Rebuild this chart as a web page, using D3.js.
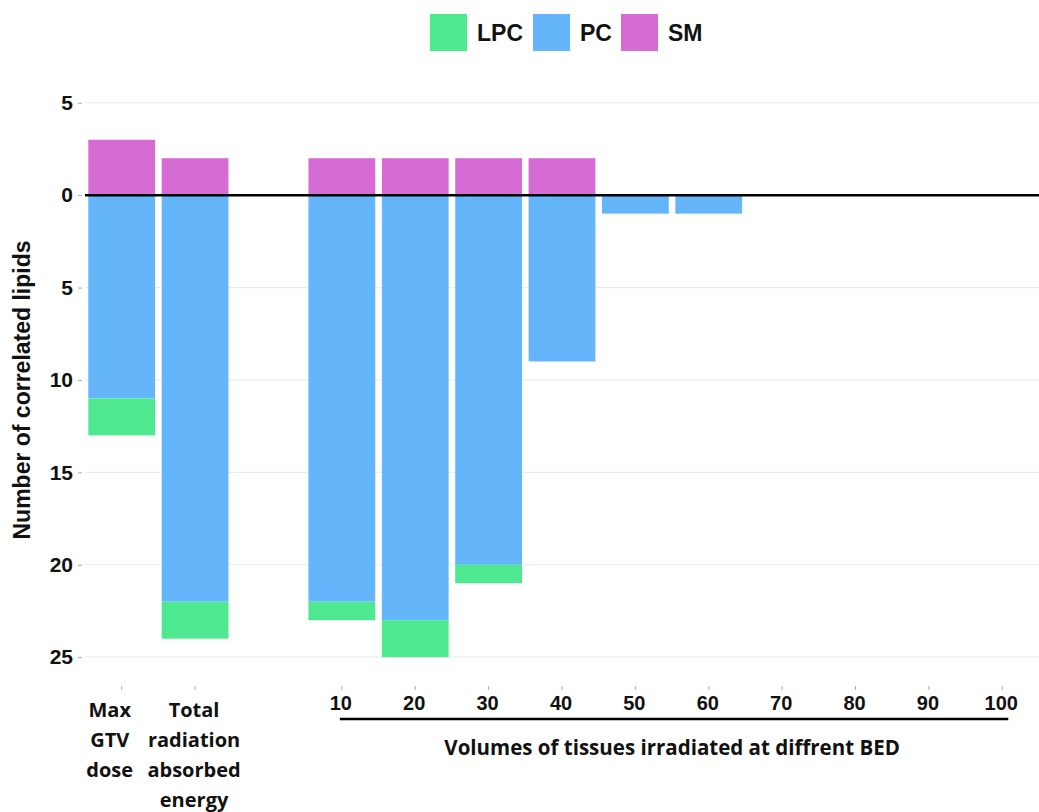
<!DOCTYPE html>
<html>
<head>
<meta charset="utf-8">
<script src="https://cdn.jsdelivr.net/npm/d3@7"></script>
<style>
  html, body { margin: 0; padding: 0; background: #fff; }
  svg { display: block; }
</style>
</head>
<body>
<svg id="chart" width="1039" height="812"></svg>
<script>
// ---- data ----
const categories = ["Max GTV dose", "Total radiation absorbed energy", "gap", "10", "20", "30", "40", "50", "60", "70", "80", "90", "100"];
const categoryLines = [["Max", "GTV", "dose"], ["Total", "radiation", "absorbed", "energy"], [], ["10"], ["20"], ["30"], ["40"], ["50"], ["60"], ["70"], ["80"], ["90"], ["100"]];
const seriesNames = ["LPC", "PC", "SM"];
const lpcValues = [2, 2, 0, 1, 2, 1, 0, 0, 0, 0, 0, 0, 0];   // below zero
const pcValues  = [11, 22, 0, 22, 23, 20, 9, 1, 1, 0, 0, 0, 0]; // below zero
const smValues  = [3, 2, 0, 2, 2, 2, 2, 0, 0, 0, 0, 0, 0];    // above zero
const yTickValues = [-25, -20, -15, -10, -5, 0, 5];
const xAxisTitle = "Volumes of tissues irradiated at diffrent BED";
const yAxisTitle = "Number of correlated lipids";
const colors = { LPC: "#4de88f", PC: "#64b5fa", SM: "#d66bd4" };

// ---- build table ----
const table = categories.map((c, i) => ({
  cat: c,
  PC: -pcValues[i],
  LPC: -lpcValues[i],
  SM: smValues[i]
}));

const svg = d3.select("#chart");
const pLeft = 85, pRight = 1039, pTop = 100, pBottom = 683;

const x = d3.scaleBand().domain(categories).range([pLeft, pRight]).paddingInner(0.09).paddingOuter(0.045);
const y = d3.scaleLinear().domain([-26.4, 5.15]).range([pBottom, pTop]);

// grid
svg.append("g").selectAll("line").data(yTickValues).join("line")
  .attr("x1", pLeft).attr("x2", pRight)
  .attr("y1", d => y(d)).attr("y2", d => y(d))
  .attr("stroke", "#ececec").attr("stroke-width", 1.2);

// stacks
const stack = d3.stack().keys(["PC", "LPC", "SM"]).offset(d3.stackOffsetDiverging);
const stacked = stack(table);

svg.append("g").selectAll("g").data(stacked).join("g")
  .attr("fill", d => colors[d.key])
  .selectAll("rect").data(d => d).join("rect")
  .attr("x", d => x(d.data.cat))
  .attr("width", x.bandwidth())
  .attr("y", d => y(Math.max(d[0], d[1])))
  .attr("height", d => Math.abs(y(d[0]) - y(d[1])));

// zero line
svg.append("line").attr("x1", pLeft).attr("x2", pRight)
  .attr("y1", y(0)).attr("y2", y(0))
  .attr("stroke", "#000").attr("stroke-width", 2.5);

// y axis
const yAxis = d3.axisLeft(y).tickValues(yTickValues).tickSize(4).tickPadding(5)
  .tickFormat(d => Math.abs(d));
const yg = svg.append("g").attr("transform", `translate(${pLeft - 3},0)`).call(yAxis);
yg.select(".domain").remove();
yg.selectAll(".tick line").attr("stroke", "#aaa");
yg.selectAll(".tick text").attr("fill", "#111")
  .style("font-family", "'Liberation Sans', Arial, sans-serif")
  .style("font-weight", "bold").style("font-size", "21px");

// x axis ticks
const xg = svg.append("g");
const xCats = categories.filter(c => c !== "gap");
xg.selectAll("line").data(xCats).join("line")
  .attr("x1", d => x(d) + x.bandwidth() / 2).attr("x2", d => x(d) + x.bandwidth() / 2)
  .attr("y1", pBottom + 3).attr("y2", pBottom + 7)
  .attr("stroke", "#aaa");

// numeric labels
const numCats = categories.slice(3);
xg.selectAll("text.num").data(numCats).join("text")
  .attr("class", "num")
  .attr("x", d => x(d) + x.bandwidth() / 2 - 1)
  .attr("y", 710)
  .attr("text-anchor", "middle")
  .attr("fill", "#111")
  .style("font-family", "'Liberation Sans', Arial, sans-serif")
  .style("font-weight", "bold").style("font-size", "20px")
  .text(d => d);

// multiline category labels
const labelOffsets = [-12, -1];
[0, 1].forEach(i => {
  const cx = x(categories[i]) + x.bandwidth() / 2 + labelOffsets[i];
  const t = xg.append("text")
    .attr("text-anchor", "middle")
    .attr("fill", "#111")
    .style("font-family", "'Open Sans', Lato, sans-serif")
    .style("font-weight", "bold").style("font-size", "20px");
  categoryLines[i].forEach((line, k) => {
    t.append("tspan").attr("x", cx).attr("y", 717 + k * 30).text(line);
  });
});

// underline for volume group
const x10 = x("10") + x.bandwidth() / 2, x100 = x("100") + x.bandwidth() / 2;
svg.append("line").attr("x1", x10 - 2).attr("x2", x100 + 6)
  .attr("y1", 719).attr("y2", 719).attr("stroke", "#000").attr("stroke-width", 2.5);

svg.append("text")
  .attr("x", (x10 + x100) / 2).attr("y", 755)
  .attr("text-anchor", "middle").attr("fill", "#111")
  .style("font-family", "'Open Sans', Lato, sans-serif")
  .style("font-weight", "bold").style("font-size", "20.5px")
  .text(xAxisTitle);

// y title
svg.append("text")
  .attr("transform", `translate(30,390) rotate(-90)`)
  .attr("text-anchor", "middle").attr("fill", "#111")
  .style("font-family", "'Liberation Sans', Arial, sans-serif")
  .style("font-weight", "bold").style("font-size", "23px")
  .text(yAxisTitle);

// legend
const legendX = [430, 533, 621];
const lg = svg.append("g");
seriesNames.forEach((s, i) => {
  lg.append("rect").attr("x", legendX[i]).attr("y", 14).attr("width", 37).attr("height", 37)
    .attr("fill", colors[s]);
  lg.append("text").attr("x", legendX[i] + 47).attr("y", 41)
    .attr("fill", "#111")
    .style("font-family", "'Liberation Sans', Arial, sans-serif")
    .style("font-weight", "bold").style("font-size", "23px")
    .text(s);
});
</script>
</body>
</html>
